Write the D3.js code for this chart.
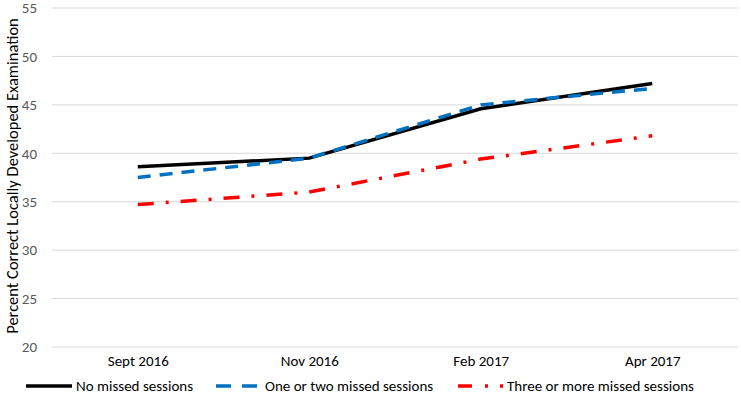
<!DOCTYPE html>
<html>
<meta charset="utf-8">
<head>
    <script src="https://d3js.org/d3.v7.min.js"></script>
    <style>
        body { margin: 0; background: #fff; }
        text { font-family: Carlito, Lato, "Open Sans", sans-serif; }
    </style>
</head>
<body>
    <div id="chart"></div>
</body>

<script>
    // data
    const months = ["Sept 2016", "Nov 2016", "Feb 2017", "Apr 2017"];
    const noMissed = [38.6, 39.5, 44.6, 47.2];
    const oneOrTwo = [37.5, 39.5, 45.0, 46.7];
    const threeOrMore = [34.7, 36.0, 39.4, 41.8];
    const yTicks = [20, 25, 30, 35, 40, 45, 50, 55];
    const seriesNames = ["No missed sessions", "One or two missed sessions", "Three or more missed sessions"];

    const series = [
        { name: seriesNames[0], values: noMissed, color: "#000000", dash: null, legendDash: null },
        { name: seriesNames[1], values: oneOrTwo, color: "#0070c0", dash: "13,9", legendDash: "15,11" },
        { name: seriesNames[2], values: threeOrMore, color: "#ff0000", dash: "16,12,3,12", legendDash: "14,13,3,12,3,100" }
    ];

    const W = 741, H = 400;
    const margin = { top: 8, right: 3, bottom: 53, left: 52 };
    const width = W - margin.left - margin.right,
        height = H - margin.top - margin.bottom;

    const svg = d3.select("#chart")
        .append("svg")
            .attr("width", W)
            .attr("height", H)
        .append("g")
            .attr("transform", `translate(${margin.left},${margin.top})`);

    const x = d3.scalePoint()
        .domain(months)
        .range([0, width])
        .padding(0.5);

    const y = d3.scaleLinear()
        .domain([20, 55])
        .range([height, 0]);

    // gridlines
    svg.append("g")
        .selectAll("line")
        .data(yTicks)
        .join("line")
            .attr("x1", 0)
            .attr("x2", width)
            .attr("y1", d => y(d))
            .attr("y2", d => y(d))
            .attr("stroke", "#d9d9d9")
            .attr("stroke-width", 1);

    // y axis labels
    const yAxis = svg.append("g")
        .call(d3.axisLeft(y).tickValues(yTicks).tickSize(0).tickPadding(15));
    yAxis.select(".domain").remove();
    yAxis.selectAll("text")
        .attr("fill", "#595959")
        .style("font-size", "15px");

    // x axis labels
    const xAxis = svg.append("g")
        .attr("transform", `translate(0,${height})`)
        .call(d3.axisBottom(x).tickSize(0).tickPadding(8));
    xAxis.select(".domain").remove();
    xAxis.selectAll("text")
        .attr("fill", "#000")
        .style("font-size", "15px");

    // y axis title
    svg.append("text")
        .attr("transform", `translate(${12 - margin.left},${176 - margin.top})rotate(-90)`)
        .attr("text-anchor", "middle")
        .attr("dy", "0.35em")
        .style("font-size", "16.5px")
        .attr("fill", "#000")
        .text("Percent Correct Locally Developed Examination");

    // lines
    const line = d3.line()
        .x((d, i) => x(months[i]))
        .y(d => y(d));

    svg.selectAll(".series")
        .data(series)
        .join("path")
            .attr("class", "series")
            .attr("d", d => line(d.values))
            .attr("fill", "none")
            .attr("stroke", d => d.color)
            .attr("stroke-width", 3.5)
            .attr("stroke-dasharray", d => d.dash);

    // legend
    const legendX = [26, 216, 458];
    const legendLen = [46, 41, 47];
    const legendTextX = [50, 49, 49];
    const legend = svg.append("g")
        .attr("transform", `translate(${-margin.left},${386 - margin.top})`);

    const item = legend.selectAll("g")
        .data(series)
        .join("g")
            .attr("transform", (d, i) => `translate(${legendX[i]},0)`);

    item.append("line")
        .attr("x1", 0)
        .attr("x2", (d, i) => legendLen[i])
        .attr("y1", 0)
        .attr("y2", 0)
        .attr("stroke", d => d.color)
        .attr("stroke-width", 3.5)
        .attr("stroke-dasharray", d => d.legendDash);

    item.append("text")
        .attr("x", (d, i) => legendTextX[i])
        .attr("dy", "0.35em")
        .style("font-size", "15px")
        .attr("fill", "#000")
        .text(d => d.name);
</script>
</html>
